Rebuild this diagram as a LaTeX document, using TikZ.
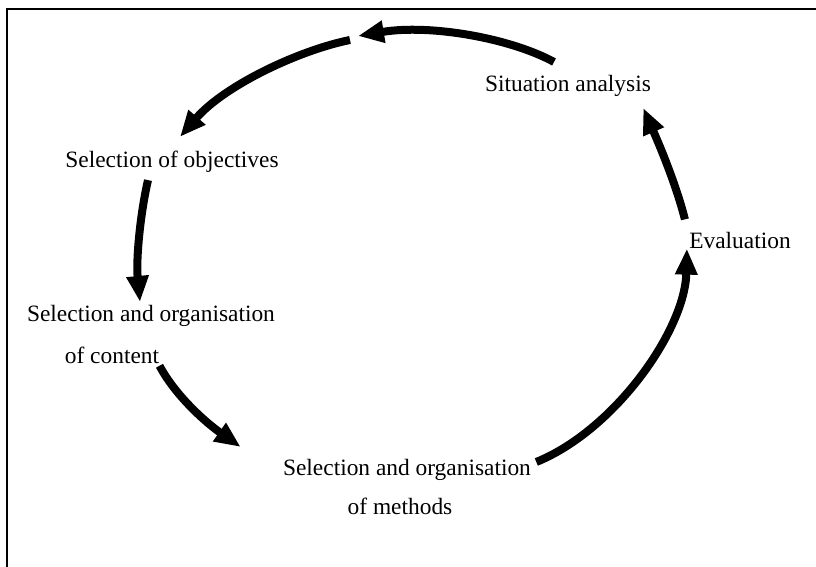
\documentclass[tikz,border=0pt]{standalone}
\usepackage{fontspec}
\setmainfont{Liberation Serif}
\usepackage{tikz}
\usetikzlibrary{arrows.meta}

\begin{document}
\begin{tikzpicture}[x=0.5pt, y=-0.5pt,
    flow/.style={line width=4pt, -{Triangle[length=13pt, width=10.5pt]}},
    lbl/.style={inner sep=0pt, font=\fontsize{11.7}{14}\selectfont}]
        \useasboundingbox (0,0) rectangle (816,567);
        % Frame
        \draw[line width=1pt] (7,567) -- (7,9) -- (816,9);

        % Stages
        \node[lbl] (sit) at (568,86) {Situation analysis};
        \node[lbl] (obj) at (172,162) {Selection of objectives};
        \node[lbl] (cont) at (151,316) {Selection and organisation};
        \node[lbl] (cont2) at (112,355) {of content};
        \node[lbl] (meth) at (407,470) {Selection and organisation};
        \node[lbl] (meth2) at (400,506) {of methods};
        \node[lbl] (eval) at (740,240) {Evaluation};
        \coordinate (topA) at (358,36);
        \coordinate (topB) at (350,40);

        % Cycle
        \draw[flow] ([xshift=-7pt, yshift=6.5pt]sit.north) .. controls (510,38) and (430,24) .. (topA);
        \draw[flow] (topB) .. controls (300,50) and (225,85) .. ([xshift=4pt, yshift=7pt]obj.north);
        \draw[flow] ([xshift=-12pt, yshift=-3.5pt]obj.south) .. controls (140,215) and (136,260) .. ([xshift=-5.5pt, yshift=1.5pt]cont.north);
        \draw[flow] ([yshift=-1pt]cont2.south east) .. controls (175,395) and (205,422) .. ([xshift=-21pt, yshift=6pt]meth.north west);
        \draw[flow] ([xshift=2.5pt, yshift=4pt]meth.east) .. controls (615,430) and (685,330) .. ([xshift=-1pt]eval.south west);
        \draw[flow] ([xshift=-2pt, yshift=6pt]eval.north west) .. controls (675,180) and (655,135) .. ([xshift=-4pt, yshift=-5.5pt]sit.south east);
    \end{tikzpicture}
\end{document}
